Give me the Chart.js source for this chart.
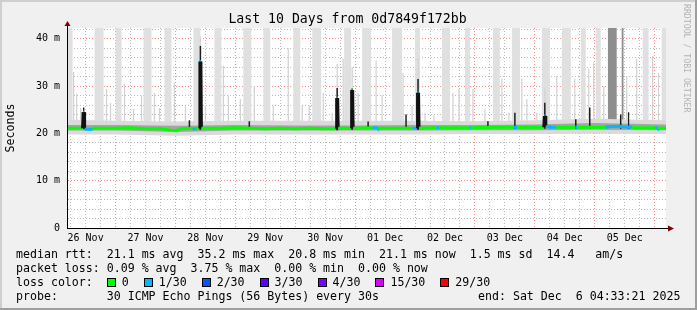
<!DOCTYPE html>
<html>
<head>
<meta charset="utf-8">
<script src="https://cdn.jsdelivr.net/npm/chart.js@4.4.0/dist/chart.umd.min.js"></script>
<style>
  html, body { margin: 0; padding: 0; background: #f0f0f0; }
  #wrap { position: relative; width: 697px; height: 310px; font-family: 'DejaVu Sans Mono', monospace; color: #000; }
  #chart { position: absolute; left: 0; top: 0; }
  #title { position: absolute; left: 0; top: 11px; width: 695px; text-align: center; font-size: 13.2px; line-height: 16px; }
  #mark { position: absolute; left: 682px; top: 4px; writing-mode: vertical-rl; font-size: 8.2px; color: #b4b4b4; letter-spacing: 0; }
  .row { position: absolute; left: 16px; font-size: 11.6px; line-height: 14px; white-space: pre; }
  .sw { display: inline-block; width: 7px; height: 7px; border: 1px solid #000; margin-right: 6px; vertical-align: -1px; }
  .lb { display: inline-block; margin-right: 15px; }
</style>
</head>
<body>
<div id="wrap">
  <canvas id="chart" width="697" height="310"></canvas>
  <div id="title">Last 10 Days from 0d7849f172bb</div>
  <div id="mark">RRDTOOL / TOBI OETIKER</div>
  <div class="row" style="top:247px">median rtt:  21.1 ms avg  35.2 ms max  20.8 ms min  21.1 ms now  1.5 ms sd  14.4   am/s</div>
  <div class="row" style="top:261px">packet loss: 0.09 % avg  3.75 % max  0.00 % min  0.00 % now</div>
  <div class="row" id="lossrow" style="top:275px">loss color:  </div>
  <div class="row" style="top:289px">probe:       30 ICMP Echo Pings (56 Bytes) every 30s</div>
  <div class="row" style="top:289px;left:478px">end: Sat Dec  6 04:33:21 2025</div>
</div>
<script>
/******************** data (x = hours since 26 Nov 00:00) ********************/

const dayLabels = ["26 Nov", "27 Nov", "28 Nov", "29 Nov", "30 Nov",
                   "01 Dec", "02 Dec", "03 Dec", "04 Dec", "05 Dec"];
const yLabels = ["0", "10 m", "20 m", "30 m", "40 m"];

const lossLabels = ["0", "1/30", "2/30", "3/30", "4/30", "15/30", "29/30"];
const lossColors = ["#00ff00", "#00b8ff", "#0059ff", "#5e00ff", "#7e00ff", "#dd00ff", "#ff0000"];

// light smoke reaching the top of the graph
const bandFrom = [4.6, 15.6, 24.0, 35.2, 43.6, 55.2, 63.6, 75.2, 83.2, 95.2, 102.8, 115.6, 122.8,
                  134.8, 144.0, 154.8, 164.0, 175.2, 182.8, 194.8, 202.8, 210.4, 216.4, 235.2, 242.8];
const bandTo   = [6.8, 19.2, 26.4, 38.4, 46.4, 58.0, 66.4, 78.4, 86.0, 98.0, 106.4, 118.4, 126.4,
                  138.8, 146.0, 158.0, 166.0, 178.0, 186.0, 198.0, 206.4, 212.4, 218.4, 237.6, 244.6];

// darker smoke columns on 05 Dec
const darkBandFrom = [221.2, 226.8];
const darkBandTo   = [224.8, 227.6];

// single light smoke spikes
const greySpikeAt  = [7.2, 8.4, 10.0, 20.4, 22.0, 27.6, 31.2, 34.4, 39.6, 41.6, 47.6, 52.0, 58.0, 60.0,
                      67.2, 69.2, 74.0, 79.6, 87.2, 93.2, 98.8, 101.6, 107.2, 110.8, 112.8, 115.2, 118.8,
                      121.2, 128.4, 130.8, 139.2, 142.8, 145.2, 148.0, 151.6, 159.2, 161.6, 167.2, 172.0,
                      178.8, 181.6, 186.8, 188.8, 192.8, 196.0, 200.8, 208.0, 213.6, 215.6, 219.6, 228.8,
                      232.8, 239.2, 241.6];
const greySpikeTop = [33.0, 28.4, 25.4, 29.4, 26.5, 30.5, 25.2, 28.0, 28.6, 25.4, 30.7, 25.8, 40.5, 25.8,
                      34.3, 28.0, 27.3, 30.0, 25.8, 38.0, 25.8, 26.0, 28.6, 24.4, 34.7, 35.8, 34.0,
                      28.6, 35.4, 28.0, 32.8, 25.8, 36.0, 24.4, 23.8, 28.6, 29.4, 29.4, 25.2,
                      31.6, 24.4, 31.6, 27.3, 24.4, 29.5, 32.2, 31.6, 33.7, 35.0, 30.0, 32.2,
                      35.8, 36.4, 32.8];

// dense (black) smoke spikes
const blackSpikeAt  = [11.2, 53.6, 58.0, 77.6, 112.8, 118.8, 125.2, 140.4, 145.2, 173.2, 184.0, 196.0, 208.4, 214.0, 226.4, 229.6];
const blackSpikeTop = [25.5, 22.8, 38.5, 22.6, 29.6,  29.5,  22.5,  24.0,  31.5,  22.6,  24.4,  26.5,  23.0,  25.5,  24.0,  24.5];

// smoke around the median
const smokeHour    = [4.6,  24,   48,   72,   96,   120,  144,  168,  192,  216,  244.6];
const smokeOuterHi = [22.9, 22.7, 22.5, 22.7, 22.7, 22.7, 22.7, 22.6, 22.8, 23.1, 22.8];
const smokeInnerHi = [21.8, 21.8, 21.6, 21.8, 21.7, 21.7, 21.8, 21.8, 21.9, 22.2, 21.9];
const smokeInnerLo = [20.6, 20.6, 20.3, 20.6, 20.6, 20.6, 20.6, 20.7, 20.7, 20.8, 20.7];
const smokeOuterLo = [19.8, 19.8, 19.5, 19.8, 19.8, 19.8, 19.8, 19.9, 19.9, 20.0, 19.9];

// median rtt (ms) and loss colour index
const medianHour = [4.6, 10.8, 11.0, 11.4, 11.6, 14.4, 14.6, 24.0, 30.0, 36.0, 42.0, 46.0, 48.4, 50.0,
                    55.0, 55.2, 56.0, 56.2, 57.6, 57.8, 58.2, 58.4, 66.0, 72.0, 78.0, 84.0, 90.0, 96.0,
                    102.0, 108.0, 112.4, 112.6, 113.0, 113.2, 118.4, 118.6, 119.0, 119.2, 127.0, 127.2,
                    128.8, 129.0, 136.0, 143.0, 143.2, 144.8, 145.0, 145.4, 145.6, 152.6, 152.8, 153.4,
                    153.6, 160.0, 165.8, 166.0, 166.6, 166.8, 176.0, 183.4, 183.6, 184.8, 185.0, 195.4,
                    195.6, 195.8, 196.2, 196.4, 198.0, 198.2, 198.8, 200.4, 200.6, 208.2, 208.4, 209.0,
                    209.2, 220.6, 220.8, 226.4, 227.2, 230.8, 231.0, 240.2, 240.4, 241.0, 241.2, 244.6];
const medianRtt  = [21.1, 21.1, 24.5, 24.5, 20.9, 20.9, 21.1, 21.1, 21.2, 21.0, 21.0, 20.7, 20.6, 21.0,
                    21.1, 21.0, 21.0, 21.1, 21.1, 35.2, 35.2, 21.1, 21.1, 21.2, 21.1, 21.0, 21.1, 21.0,
                    21.1, 21.0, 21.0, 27.5, 27.5, 21.1, 21.1, 29.2, 29.2, 21.1, 21.2, 21.2,
                    21.2, 21.1, 21.1, 21.1, 21.1, 21.1, 28.6, 28.6, 21.1, 21.2, 21.2, 21.2,
                    21.2, 21.2, 21.2, 21.2, 21.2, 21.2, 21.3, 21.3, 21.3, 21.3, 21.3, 21.3,
                    21.3, 23.7, 23.7, 21.4, 21.4, 21.3, 21.3, 21.3, 21.3, 21.3, 21.3, 21.3,
                    21.3, 21.3, 21.4, 21.5, 21.4, 21.3, 21.2, 21.2, 21.2, 21.2, 21.1, 21.1];
const medianLoss = [0, 0, 1, 1, 1, 1, 0, 0, 0, 0, 0, 0, 0, 0,
                    0, 1, 1, 0, 0, 1, 1, 0, 0, 0, 0, 0, 0, 0,
                    0, 0, 0, 1, 1, 0, 0, 0, 0, 0, 0, 1,
                    1, 0, 0, 0, 1, 1, 1, 1, 0, 0, 1, 1,
                    0, 0, 0, 1, 1, 0, 0, 0, 1, 1, 0, 0,
                    1, 1, 1, 1, 1, 0, 1, 1, 0, 0, 1, 1,
                    0, 0, 1, 1, 1, 1, 0, 0, 1, 1, 0, 0];

/************************ helpers *********************************/

const TOP = 60; // beyond the y axis max, clipped by the chart area
const BASE = 21;

function columns(from, to, tops) {
  const pts = [];
  from.forEach((s, i) => {
    const t = tops ? tops[i] : TOP;
    pts.push({x: s, y: BASE}, {x: s, y: t}, {x: to[i], y: t}, {x: to[i], y: BASE});
  });
  return pts;
}
function spikes(at, tops, half) {
  return columns(at.map(v => v - half), at.map(v => v + half), tops);
}
function series(xs, ys) {
  return xs.map((x, i) => ({x: x, y: ys[i]}));
}

/************************ legend row *********************************/

const lossRow = document.getElementById("lossrow");
lossLabels.forEach((l, i) => {
  const sw = document.createElement("span");
  sw.className = "sw";
  sw.style.background = lossColors[i];
  const lb = document.createElement("span");
  lb.className = "lb";
  lb.textContent = l;
  lossRow.appendChild(sw);
  lossRow.appendChild(lb);
});

/************************ plugins *********************************/

const framePlugin = {
  id: "frame",
  beforeDraw(chart) {
    const c = chart.ctx, a = chart.chartArea, w = chart.width, h = chart.height;
    c.save();
    c.fillStyle = "#f0f0f0";
    c.fillRect(0, 0, w, h);
    c.fillStyle = "#ffffff";
    c.fillRect(a.left, a.top, a.right - a.left, a.bottom - a.top);
    c.fillStyle = "#cfcfcf";
    c.fillRect(0, 0, w, 2);
    c.fillRect(0, 0, 2, h);
    c.fillStyle = "#9e9e9e";
    c.fillRect(0, h - 2, w, 2);
    c.fillRect(w - 2, 0, 2, h);
    c.restore();
  },
  afterDraw(chart) {
    const c = chart.ctx, a = chart.chartArea;
    const x0 = Math.round(a.left) + 0.5, y0 = Math.round(a.bottom) + 0.5;
    c.save();
    c.strokeStyle = "#000";
    c.lineWidth = 1;
    c.beginPath();
    c.moveTo(x0, y0);
    c.lineTo(x0, a.top - 3);
    c.moveTo(x0, y0);
    c.lineTo(a.right + 3, y0);
    c.stroke();
    c.fillStyle = "#7f0000";
    c.beginPath();
    c.moveTo(x0, a.top - 7);
    c.lineTo(x0 - 3, a.top - 2);
    c.lineTo(x0 + 3, a.top - 2);
    c.closePath();
    c.fill();
    c.beginPath();
    c.moveTo(a.right + 8, y0);
    c.lineTo(a.right + 2, y0 - 3);
    c.lineTo(a.right + 2, y0 + 3);
    c.closePath();
    c.fill();
    c.restore();
  }
};

/************************ chart *********************************/

const gridDash = [1, 2];
const monoTick = {family: "DejaVu Sans Mono", size: 10};

const ctx = document.getElementById("chart").getContext("2d");
const myChart = new Chart(ctx, {
  type: "line",
  data: {
    datasets: [
      { label: "smoke top", data: columns(bandFrom, bandTo), order: 10,
        borderWidth: 0, pointRadius: 0, backgroundColor: "#e0e0e0", fill: {value: BASE} },
      { label: "smoke spikes", data: spikes(greySpikeAt, greySpikeTop, 0.25), order: 9,
        borderWidth: 0, pointRadius: 0, backgroundColor: "#d2d2d2", fill: {value: BASE} },
      { label: "dark smoke", data: columns(darkBandFrom, darkBandTo), order: 8,
        borderWidth: 0, pointRadius: 0, backgroundColor: "#8e8e8e", fill: {value: BASE} },
      { label: "outer hi", data: series(smokeHour, smokeOuterHi), order: 7,
        borderWidth: 0, pointRadius: 0, backgroundColor: "#dadada", fill: "+1" },
      { label: "outer lo", data: series(smokeHour, smokeOuterLo), order: 7,
        borderWidth: 0, pointRadius: 0, fill: false },
      { label: "inner hi", data: series(smokeHour, smokeInnerHi), order: 6,
        borderWidth: 0, pointRadius: 0, backgroundColor: "#a4a4a4", fill: "+1" },
      { label: "inner lo", data: series(smokeHour, smokeInnerLo), order: 6,
        borderWidth: 0, pointRadius: 0, fill: false },
      { label: "dense smoke", data: spikes(blackSpikeAt, blackSpikeTop, 0.3), order: 5,
        borderWidth: 0, pointRadius: 0, backgroundColor: "#1e1e1e", fill: {value: BASE} },
      { label: "median rtt", data: series(medianHour, medianRtt), order: 1,
        borderWidth: 3, pointRadius: 0, fill: false, tension: 0,
        segment: {
          borderColor: (c) => {
            const a = c.p0DataIndex, b = c.p1DataIndex;
            if (Math.abs(medianRtt[b] - medianRtt[a]) > 1) return "#111";
            return lossColors[Math.max(medianLoss[a], medianLoss[b])];
          }
        } }
    ]
  },
  options: {
    responsive: false,
    devicePixelRatio: 1,
    animation: false,
    layout: { padding: { left: 0, top: 28, right: 31, bottom: 62 } },
    plugins: { legend: { display: false }, tooltip: { enabled: false }, title: { display: false } },
    scales: {
      x: {
        type: "linear", min: 4.55, max: 244.55, z: 1,
        afterBuildTicks: (s) => {
          const t = [];
          for (let v = 6; v <= 240; v += 6) t.push({value: v});
          s.ticks = t;
        },
        afterFit: (s) => { s.height = 20; },
        grid: {
          drawTicks: false,
          color: (c) => (c.tick.value % 24 === 0 ? "rgba(255,0,0,0.45)" : "rgba(120,120,120,0.5)")
        },
        border: { display: true, color: "#000", dash: gridDash },
        ticks: {
          autoSkip: false, maxRotation: 0, padding: 4, color: "#000", font: monoTick,
          callback: (v) => (v % 24 === 12 ? dayLabels[(v - 12) / 24] : "")
        }
      },
      y: {
        min: 0, max: 42.3, z: 1,
        afterBuildTicks: (s) => {
          const t = [];
          for (let v = 0; v <= 42; v += 2) t.push({value: v});
          s.ticks = t;
        },
        afterFit: (s) => { s.width = 67; },
        grid: {
          drawTicks: false,
          color: (c) => (c.tick.value === 0 ? "rgba(0,0,0,0)" :
                 c.tick.value % 10 === 0 ? "rgba(255,0,0,0.45)" : "rgba(120,120,120,0.5)")
        },
        border: { display: true, color: "#000", dash: gridDash },
        title: { display: true, text: "Seconds", color: "#000",
                 font: {family: "DejaVu Sans Mono", size: 11.6}, padding: {top: 4, bottom: 0} },
        ticks: {
          autoSkip: false, padding: 7, color: "#000", font: monoTick,
          callback: (v) => (v % 10 === 0 ? yLabels[v / 10] : "")
        }
      }
    }
  },
  plugins: [framePlugin]
});
</script>
</body>
</html>
